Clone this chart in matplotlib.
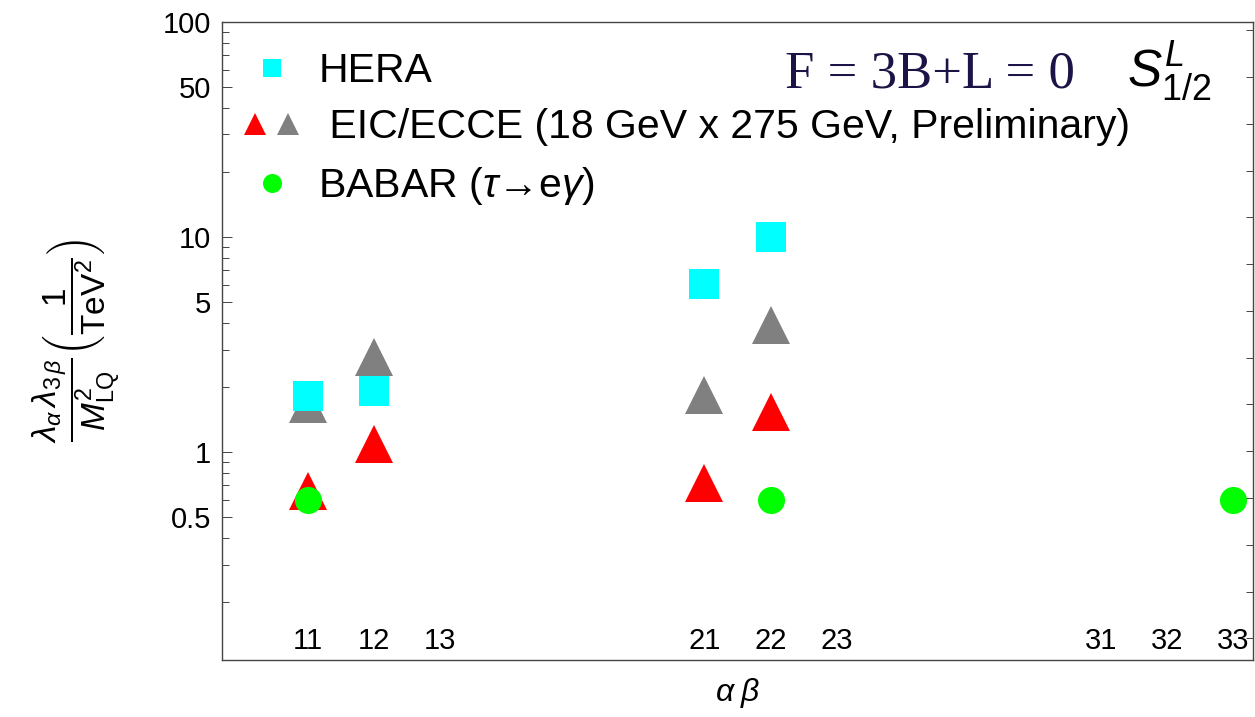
import numpy as np
import matplotlib.pyplot as plt
from matplotlib.lines import Line2D
from matplotlib.legend_handler import HandlerTuple

plt.rcParams['font.family'] = ['Liberation Sans', 'DejaVu Sans']
plt.rcParams['mathtext.fontset'] = 'custom'
plt.rcParams['mathtext.rm'] = 'Liberation Sans'
plt.rcParams['mathtext.it'] = 'Liberation Sans:italic'
plt.rcParams['mathtext.bf'] = 'Liberation Sans:bold'

# index pairs (alpha beta) and where they sit on the x axis
pair_labels = ['11', '12', '13', '21', '22', '23', '31', '32', '33']
pair_pos = [1, 2, 3, 7, 8, 9, 13, 14, 15]

# upper limits on lambda_a lambda_3b / M_LQ^2  [1/TeV^2]
hera_pairs = ['11', '12', '21', '22']
hera_vals = [1.83, 1.93, 6.03, 10.0]

eic_pairs = ['11', '12', '21', '22']
eic_gray_vals = [1.67, 2.77, 1.84, 3.88]
eic_red_vals = [0.66, 1.09, 0.72, 1.53]

babar_pairs = ['11', '22', '33']
babar_vals = [0.60, 0.60, 0.60]

pos_of = dict(zip(pair_labels, pair_pos))

def xs(pairs):
    return [pos_of[p] for p in pairs]

CYAN = '#00ffff'
RED = '#ff0000'
GRAY = '#808080'
GREEN = '#00ff00'
EDGE = '#444444'

fig = plt.figure(figsize=(12.55, 7.17), dpi=100)
ax = fig.add_axes([222 / 1255, 1 - 660 / 717, (1253 - 222) / 1255, (660 - 22) / 717])

ax.plot(xs(eic_pairs), eic_gray_vals, ls='none', marker='^', ms=27, color=GRAY, mew=0, zorder=2)
ax.plot(xs(eic_pairs), eic_red_vals, ls='none', marker='^', ms=27, color=RED, mew=0, zorder=2)
ax.plot(xs(hera_pairs), hera_vals, ls='none', marker='s', ms=22.3, color=CYAN, mew=0, zorder=3)
ax.plot(xs(babar_pairs), babar_vals, ls='none', marker='o', ms=19.5, color=GREEN, mew=0, zorder=4)

ax.set_yscale('log')
ax.set_ylim(0.108, 100)
ax.set_xlim(-0.3, 15.3)

ax.set_yticks([0.5, 1, 5, 10, 50, 100])
ax.set_yticklabels(['0.5', '1', '5', '10', '50', '100'])
minor = [k * 10.0 ** e for e in (-1, 0, 1) for k in range(2, 10) if k != 5]
ax.set_yticks(minor, minor=True)
ax.yaxis.set_minor_formatter(plt.NullFormatter())
ax.tick_params(axis='y', which='major', direction='in', length=7.2, width=0.7,
               color=EDGE, labelsize=21, pad=8)
ax.tick_params(axis='y', which='minor', direction='in', length=5, width=0.7, color=EDGE)

# pair labels sit inside the frame just above the bottom spine
ax.set_xticks(pair_pos)
ax.set_xticklabels(pair_labels)
ax.tick_params(axis='x', length=0, labelsize=21, pad=-24)

for s in ax.spines.values():
    s.set_color(EDGE)
    s.set_linewidth(1.0)

# evenly spaced ticks on the right-hand frame
ax2 = ax.twinx()
ax2.set_ylim(0, 1)
ax2.set_yticks(0.034 + 0.0733 * np.arange(14))
ax2.set_yticklabels([])
ax2.tick_params(axis='y', direction='in', length=5, width=0.7, color=EDGE)
for s in ax2.spines.values():
    s.set_visible(False)

ax.set_ylabel(r'$\dfrac{\lambda_{\alpha}\,\lambda_{3\,\beta}}{M_{\mathrm{LQ}}^{2}}'
              r'\left(\dfrac{1}{\mathrm{TeV}^{2}}\right)$', fontsize=24)
ax.yaxis.set_label_coords(-0.096, 0.5)
ax.set_xlabel(r'$\alpha\;\beta$', fontsize=23)
ax.xaxis.set_label_coords(0.5, -0.025)

handles = [
    Line2D([], [], ls='none', marker='s', ms=13.4, color=CYAN, mew=0),
    (Line2D([], [], ls='none', marker='^', ms=16.5, color=RED, mew=0),
     Line2D([], [], ls='none', marker='^', ms=16.5, color=GRAY, mew=0)),
    Line2D([], [], ls='none', marker='o', ms=13.7, color=GREEN, mew=0),
]
labels = ['HERA', ' EIC/ECCE (18 GeV x 275 GeV, Preliminary)',
          r'BABAR ($\tau$→e$\gamma$)']
ax.legend(handles, labels, loc='upper left', bbox_to_anchor=(0.019, 0.953),
          frameon=False, fontsize=29.5, borderpad=0, borderaxespad=0,
          handlelength=1.47, handletextpad=0.4, labelspacing=0.45,
          handler_map={tuple: HandlerTuple(ndivide=None, pad=0.147)})

ax.text(0.546, 0.898, 'F = 3B+L = 0', transform=ax.transAxes, fontsize=38,
        family='Liberation Serif', color='#1b1446', va='baseline')
ax.text(0.878, 0.898, r'$S^{L}_{1/2}$', transform=ax.transAxes, fontsize=37,
        color='black', va='baseline')

fig.savefig('out.png', dpi=100)
